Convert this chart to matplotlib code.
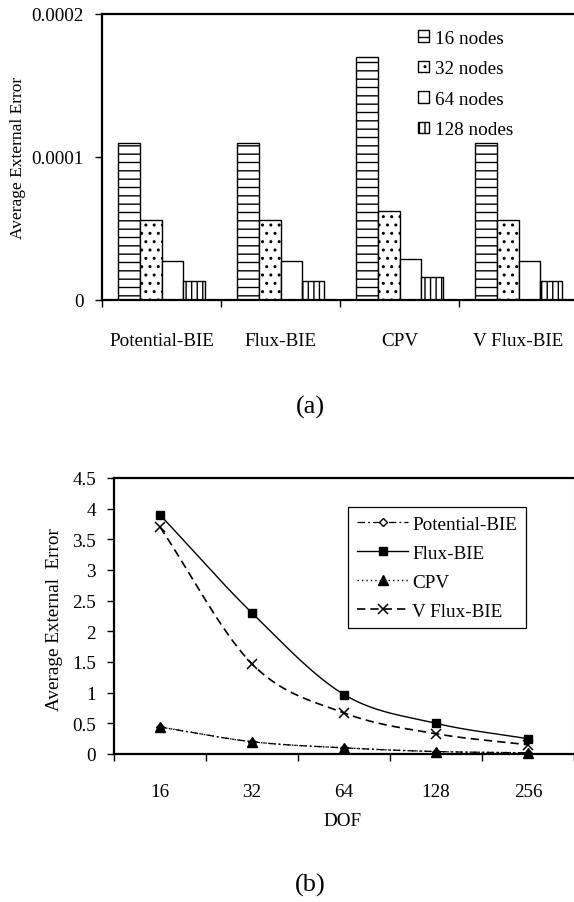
import numpy as np
import matplotlib
matplotlib.use('Agg')
import matplotlib.pyplot as plt
from matplotlib.lines import Line2D
from matplotlib.ticker import FixedLocator, NullFormatter

plt.rcParams['font.family'] = ['Liberation Serif', 'DejaVu Serif']
plt.rcParams['hatch.linewidth'] = 1.0
plt.rcParams['hatch.color'] = 'black'

# ---------------- data (a) ----------------
methods = ['Potential-BIE', 'Flux-BIE', 'CPV', 'V Flux-BIE']
node_labels = ['16 nodes', '32 nodes', '64 nodes', '128 nodes']
err_16 = [1.10e-4, 1.10e-4, 1.70e-4, 1.10e-4]
err_32 = [5.6e-5, 5.6e-5, 6.2e-5, 5.6e-5]
err_64 = [2.75e-5, 2.75e-5, 2.85e-5, 2.75e-5]
err_128 = [1.35e-5, 1.35e-5, 1.6e-5, 1.35e-5]
yticks_a = [0, 0.0001, 0.0002]
ytick_labels_a = ['0', '0.0001', '0.0002']

# ---------------- data (b) ----------------
dof = ['16', '32', '64', '128', '256']
pot_bie = [0.44, 0.20, 0.10, 0.04, 0.02]
flux_bie = [3.9, 2.3, 0.97, 0.5, 0.25]
cpv = [0.44, 0.20, 0.10, 0.04, 0.02]
vflux_bie = [3.7, 1.47, 0.67, 0.33, 0.15]
yticks_b = [0, 0.5, 1, 1.5, 2, 2.5, 3, 3.5, 4, 4.5]
ytick_labels_b = ['0', '0.5', '1', '1.5', '2', '2.5', '3', '3.5', '4', '4.5']

W, H = 574, 903
fig = plt.figure(figsize=(W / 100, H / 100), dpi=100)


def rect(l, t, r, b):
    return [l / W, 1 - b / H, (r - l) / W, (b - t) / H]


def fpos(x, y):
    return x / W, 1 - y / H


FS = 13.8

# ================= chart (a) =================
ax1 = fig.add_axes(rect(102, 15, 578, 301))
x = np.arange(len(methods))
w = 0.183
series = [err_16, err_32, err_64, err_128]
hatches = ['--', '..', '', '|||']
for i, (vals, hatch, lab) in enumerate(zip(series, hatches, node_labels)):
    ax1.bar(x + (i - 1.5) * w, vals, w, color='white', edgecolor='black',
            hatch=hatch, linewidth=1.0, label=lab, zorder=2)
ax1.set_xlim(-0.5, len(methods) - 0.5)
ax1.set_ylim(0, 0.0002)
ax1.set_yticks(yticks_a)
ax1.set_yticklabels(ytick_labels_a)
ax1.set_xticks(x)
ax1.set_xticklabels(methods)
ax1.xaxis.set_minor_locator(FixedLocator(np.arange(-0.5, len(methods), 1.0)))
ax1.xaxis.set_minor_formatter(NullFormatter())
ax1.tick_params(axis='x', which='major', length=0, pad=23, labelsize=FS)
ax1.tick_params(axis='x', which='minor', length=5, width=1, direction='out')
ax1.tick_params(axis='y', length=5, width=1, direction='out', pad=8, labelsize=FS)
for s in ['left', 'bottom', 'top']:
    ax1.spines[s].set_linewidth(1.6)
ax1.spines['right'].set_visible(False)
ax1.legend(loc='upper left', bbox_to_anchor=fpos(418, 31), bbox_transform=fig.transFigure,
           frameon=False, handlelength=0.55, handleheight=0.55, handletextpad=0.35,
           labelspacing=0.7, borderpad=0, borderaxespad=0, fontsize=FS)
fig.text(*fpos(18, 158), 'Average External Error', rotation=90, ha='center', va='center',
         fontsize=12.5)
fig.text(*fpos(310, 407), '(a)', ha='center', va='center', fontsize=19)

# ================= chart (b) =================
ax2 = fig.add_axes(rect(114, 479, 574, 755))
xb = np.arange(len(dof))


def smooth(xs, ys, n=40):
    xs = np.asarray(xs, float)
    ys = np.asarray(ys, float)
    px = np.concatenate([[2 * xs[0] - xs[1]], xs, [2 * xs[-1] - xs[-2]]])
    py = np.concatenate([[2 * ys[0] - ys[1]], ys, [2 * ys[-1] - ys[-2]]])
    outx, outy = [], []
    for i in range(1, len(px) - 2):
        t = np.linspace(0, 1, n)
        p0x, p1x, p2x, p3x = px[i - 1:i + 3]
        p0y, p1y, p2y, p3y = py[i - 1:i + 3]
        c1x, c1y = p1x + (p2x - p0x) / 6, p1y + (p2y - p0y) / 6
        c2x, c2y = p2x - (p3x - p1x) / 6, p2y - (p3y - p1y) / 6
        bx = (1 - t) ** 3 * p1x + 3 * (1 - t) ** 2 * t * c1x + 3 * (1 - t) * t ** 2 * c2x + t ** 3 * p2x
        by = (1 - t) ** 3 * p1y + 3 * (1 - t) ** 2 * t * c1y + 3 * (1 - t) * t ** 2 * c2y + t ** 3 * p2y
        outx.extend(bx)
        outy.extend(by)
    return np.array(outx), np.array(outy)


styles = [
    ('Potential-BIE', pot_bie, dict(color='black', lw=0.9, dashes=(6, 2.5, 1.5, 2.5)),
     dict(marker='D', ms=4.2, mfc='white', mec='black', mew=1.0)),
    ('Flux-BIE', flux_bie, dict(color='black', lw=1.0, ls='-'),
     dict(marker='s', ms=6, mfc='black', mec='black')),
    ('CPV', cpv, dict(color='black', lw=1.0, dashes=(1, 2.2)),
     dict(marker='^', ms=6.5, mfc='black', mec='black')),
    ('V Flux-BIE', vflux_bie, dict(color='black', lw=1.2, dashes=(5, 3)),
     dict(marker='x', ms=7, mec='black', mew=1.1)),
]
handles = []
for name, vals, lstyle, mstyle in styles:
    sx, sy = smooth(xb, vals)
    ax2.plot(sx, sy, **lstyle, zorder=2)
    ax2.plot(xb, vals, ls='none', **mstyle, zorder=3, clip_on=False)
    handles.append(Line2D([], [], **lstyle, **mstyle))

ax2.set_xlim(-0.5, len(dof) - 0.5)
ax2.set_ylim(0, 4.5)
ax2.set_yticks(yticks_b)
ax2.set_yticklabels(ytick_labels_b)
ax2.set_xticks(xb)
ax2.set_xticklabels(dof)
ax2.xaxis.set_minor_locator(FixedLocator(np.arange(-0.5, len(dof), 1.0)))
ax2.xaxis.set_minor_formatter(NullFormatter())
ax2.tick_params(axis='x', which='major', length=0, pad=21, labelsize=FS)
ax2.tick_params(axis='x', which='minor', length=5, width=1, direction='out')
ax2.tick_params(axis='y', length=5, width=1, direction='out', pad=8, labelsize=FS)
for s in ['left', 'bottom', 'top']:
    ax2.spines[s].set_linewidth(1.6)
ax2.spines['right'].set_linewidth(0.8)
ax2.spines['right'].set_color('#888888')
leg = ax2.legend(handles, [s[0] for s in styles], loc='upper left',
                 bbox_to_anchor=fpos(348, 508), bbox_transform=fig.transFigure,
                 frameon=True, fancybox=False, edgecolor='black', framealpha=1,
                 handlelength=2.7, handletextpad=0.2, labelspacing=0.6,
                 borderpad=0.45, borderaxespad=0, fontsize=FS)
leg.get_frame().set_linewidth(0.9)
fig.text(*fpos(55, 620), 'Average External  Error', rotation=90, ha='center', va='center',
         fontsize=13.8)
fig.text(*fpos(343, 822), 'DOF', ha='center', va='center', fontsize=FS)
fig.text(*fpos(310, 885), '(b)', ha='center', va='center', fontsize=19)

fig.savefig('out.png', dpi=100)
